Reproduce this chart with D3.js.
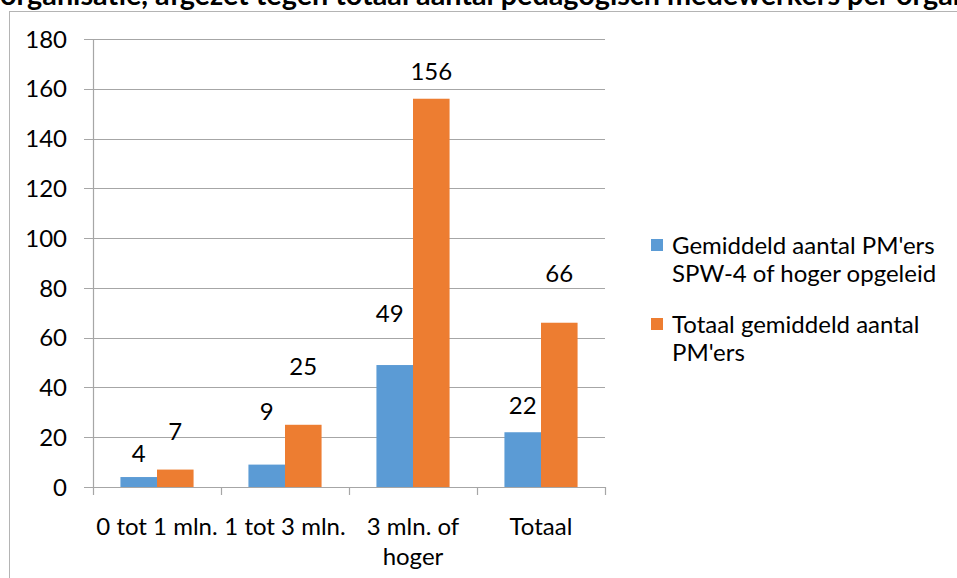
<!DOCTYPE html>
<html><head><meta charset="utf-8">
<script src="https://cdn.jsdelivr.net/npm/d3@7"></script>
<style>html,body{margin:0;padding:0;background:#fff;overflow:hidden} svg{display:block}</style>
</head><body>
<script>
// ---- data ----
const categories = ["0 tot 1 mln.", "1 tot 3 mln.", "3 mln. of hoger", "Totaal"];
const seriesNames = ["Gemiddeld aantal PM'ers SPW-4 of hoger opgeleid", "Totaal gemiddeld aantal PM'ers"];
const seriesHoger = [4, 9, 49, 22];
const seriesTotaal = [7, 25, 156, 66];
const yTicks = [0, 20, 40, 60, 80, 100, 120, 140, 160, 180];
const titleText = "organisatie, afgezet tegen totaal aantal pedagogisch medewerkers per organisatie";

// ---- style / placement (not data) ----
const colors = ["#5b9bd5", "#ed7d31"];
const labelLift = [[24, 53, 52, 27], [38, 58, 27, 49]];
const labelShift = [[0, 0, -5, 0], [0, 0, 0, 0]];
const FONT = "Lato, 'Open Sans', sans-serif";
const fs = 24;

const W = 957, H = 578;
const svg = d3.select("body").append("svg").attr("width", W).attr("height", H);

// outer chart border
svg.append("rect").attr("x", 9.5).attr("y", 11.5).attr("width", W + 10).attr("height", H + 10)
  .attr("fill", "none").attr("stroke", "#b4b4b4").attr("stroke-width", 1);

// title (cut off at top, as in the source)
const title = svg.append("text").attr("x", 0).attr("y", 5)
  .attr("font-family", FONT).attr("font-weight", "bold").attr("font-size", 24)
  .attr("fill", "#000").text("organisatie, afgezet tegen totaal aantal pedagogisch medewerkers per");
const wPrefix = title.node().getComputedTextLength();
title.attr("font-size", 24 * 890 / wPrefix).text(titleText);

const x = d3.scaleBand().domain(categories).range([93, 605]).paddingInner(0).paddingOuter(0);
const xs = d3.scaleBand().domain([0, 1]).range([0, x.bandwidth()]).paddingInner(0).paddingOuter(0.75);
const y = d3.scaleLinear().domain([0, 180]).range([487, 39]);

// gridlines
svg.append("g").selectAll("line").data(yTicks).join("line")
  .attr("x1", 84).attr("x2", 605)
  .attr("y1", d => Math.round(y(d)) + 0.5).attr("y2", d => Math.round(y(d)) + 0.5)
  .attr("stroke", "#a6a6a6").attr("stroke-width", 1.2);

// y axis line
svg.append("line").attr("x1", 93.5).attr("x2", 93.5).attr("y1", y(180)).attr("y2", y(0))
  .attr("stroke", "#a6a6a6").attr("stroke-width", 1.2);

// x category ticks
const bounds = categories.map(c => x(c)).concat([x.range()[1]]);
svg.append("g").selectAll("line").data(bounds).join("line")
  .attr("x1", d => Math.round(d) + 0.5).attr("x2", d => Math.round(d) + 0.5)
  .attr("y1", y(0)).attr("y2", y(0) + 8)
  .attr("stroke", "#a6a6a6").attr("stroke-width", 1.2);

// y tick labels
svg.append("g").selectAll("text").data(yTicks).join("text")
  .attr("x", 67).attr("y", d => y(d)).attr("dy", "0.36em")
  .attr("text-anchor", "end").attr("font-family", FONT).attr("font-size", fs)
  .attr("fill", "#000").text(d => d);

// bars + data labels
const series = [seriesHoger, seriesTotaal];
series.forEach((vals, si) => {
  svg.append("g").selectAll("rect").data(vals).join("rect")
    .attr("x", (d, i) => x(categories[i]) + xs(si))
    .attr("width", xs.bandwidth())
    .attr("y", d => y(d)).attr("height", d => y(0) - y(d))
    .attr("fill", colors[si]);
  svg.append("g").selectAll("text").data(vals).join("text")
    .attr("x", (d, i) => x(categories[i]) + xs(si) + xs.bandwidth() / 2 + labelShift[si][i])
    .attr("y", (d, i) => y(d) - labelLift[si][i]).attr("dy", "0.36em")
    .attr("text-anchor", "middle").attr("font-family", FONT).attr("font-size", fs)
    .attr("fill", "#000").text(d => d);
});

// wrap helper
function wrapLines(text, maxW, size) {
  const tmp = svg.append("text").attr("font-family", FONT).attr("font-size", size);
  const words = text.split(" ");
  const lines = [];
  let cur = "";
  words.forEach(w => {
    const t = cur ? cur + " " + w : w;
    tmp.text(t);
    if (tmp.node().getComputedTextLength() > maxW && cur) { lines.push(cur); cur = w; }
    else cur = t;
  });
  if (cur) lines.push(cur);
  tmp.remove();
  return lines;
}

// x category labels
categories.forEach(c => {
  const lines = wrapLines(c, 145, fs);
  const t = svg.append("text").attr("text-anchor", "middle").attr("font-family", FONT)
    .attr("font-size", fs).attr("fill", "#000");
  lines.forEach((l, i) => t.append("tspan").attr("x", x(c) + x.bandwidth() / 2)
    .attr("y", 526 + i * 30).attr("dy", "0.36em").text(l));
});

// legend
const legY = [245, 324];
seriesNames.forEach((name, si) => {
  svg.append("rect").attr("x", 651).attr("y", legY[si] - 6).attr("width", 12).attr("height", 12)
    .attr("fill", colors[si]);
  const lines = wrapLines(name, 290, fs);
  const t = svg.append("text").attr("font-family", FONT).attr("font-size", fs).attr("fill", "#000");
  lines.forEach((l, i) => t.append("tspan").attr("x", 672).attr("y", legY[si] + i * 28)
    .attr("dy", "0.36em").text(l));
});
</script>
</body></html>
